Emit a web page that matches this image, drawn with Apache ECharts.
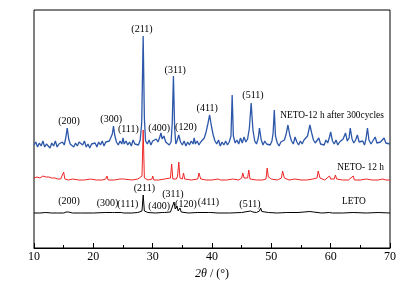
<!DOCTYPE html>
<html>
<head>
<meta charset="utf-8">
<script src="https://cdn.jsdelivr.net/npm/echarts@6/dist/echarts.min.js"></script>
<style>
  html, body { margin: 0; padding: 0; background: #fff; }
  #xrd { width: 418px; height: 285px; }
</style>
</head>
<body>
<div id="xrd"></div>
<script>
// 2theta / intensity pairs (a.u., already offset like the figure)
const blueData = [
  [10.0, 103], [10.3, 106], [10.6, 101], [10.9, 105], [11.2, 102], [11.5, 107], [11.8, 101], [12.1, 104],
  [12.4, 106], [12.7, 100], [13.0, 105], [13.3, 102], [13.6, 107], [13.9, 101], [14.2, 104], [14.5, 102],
  [14.8, 106], [15.1, 103], [15.35, 110], [15.6, 120], [15.85, 109], [16.1, 104], [16.4, 106], [16.7, 101],
  [17.0, 105], [17.3, 102], [17.6, 106], [17.9, 108], [18.2, 103], [18.5, 107], [18.8, 101], [19.1, 104],
  [19.4, 100], [19.7, 104], [20.0, 102], [20.3, 105], [20.6, 101], [20.9, 106], [21.2, 103], [21.5, 107],
  [21.8, 102], [22.1, 106], [22.4, 104], [22.7, 107], [23.0, 109], [23.2, 114], [23.4, 122], [23.6, 113],
  [23.9, 106], [24.2, 103], [24.5, 107], [24.8, 104], [25.0, 110], [25.2, 104], [25.5, 107], [25.8, 103],
  [26.1, 106], [26.4, 102], [26.7, 108], [27.0, 104], [27.3, 106], [27.6, 103], [27.9, 108], [28.15, 125],
  [28.4, 212], [28.6, 130], [28.8, 107], [29.1, 104], [29.4, 108], [29.7, 103], [30.0, 107], [30.3, 105],
  [30.6, 109], [30.9, 106], [31.2, 111], [31.4, 115], [31.6, 109], [31.9, 112], [32.2, 106], [32.5, 108],
  [32.8, 103], [33.1, 106], [33.3, 125], [33.5, 172], [33.7, 120], [33.9, 104], [34.1, 107], [34.4, 113],
  [34.7, 106], [35.0, 103], [35.3, 107], [35.6, 102], [35.9, 106], [36.2, 103], [36.5, 107], [36.8, 104],
  [37.0, 110], [37.2, 104], [37.5, 107], [37.8, 103], [38.1, 106], [38.4, 105], [38.7, 110], [39.0, 116],
  [39.3, 124], [39.6, 133], [39.9, 122], [40.2, 113], [40.5, 107], [40.8, 104], [41.1, 108], [41.4, 102],
  [41.7, 106], [42.0, 103], [42.3, 107], [42.6, 103], [42.9, 106], [43.2, 112], [43.4, 153], [43.6, 112],
  [43.9, 105], [44.2, 108], [44.5, 104], [44.8, 110], [45.1, 105], [45.4, 111], [45.7, 106], [46.0, 109],
  [46.3, 120], [46.6, 145], [46.9, 118], [47.2, 107], [47.5, 104], [47.8, 110], [48.0, 120], [48.3, 108],
  [48.6, 103], [48.9, 107], [49.2, 104], [49.5, 106], [49.8, 103], [50.1, 107], [50.3, 115], [50.5, 138],
  [50.7, 112], [51.0, 105], [51.3, 102], [51.6, 106], [51.9, 104], [52.2, 108], [52.5, 114], [52.8, 123],
  [53.1, 113], [53.4, 107], [53.7, 104], [54.0, 111], [54.3, 106], [54.6, 103], [54.9, 107], [55.2, 104],
  [55.5, 108], [55.8, 106], [56.1, 112], [56.5, 123], [56.8, 115], [57.1, 108], [57.4, 105], [57.7, 107],
  [58.0, 110], [58.3, 104], [58.6, 106], [58.9, 103], [59.2, 108], [59.5, 105], [59.8, 111], [60.0, 116],
  [60.3, 107], [60.6, 104], [60.9, 108], [61.2, 103], [61.5, 106], [61.8, 104], [62.1, 109], [62.5, 115],
  [62.8, 107], [63.1, 110], [63.3, 120], [63.6, 109], [63.9, 105], [64.2, 108], [64.5, 113], [64.8, 106],
  [65.1, 104], [65.4, 107], [65.7, 103], [65.95, 109], [66.2, 120], [66.45, 108], [66.8, 104], [67.1, 107],
  [67.5, 111], [67.8, 105], [68.1, 103], [68.4, 106], [68.7, 104], [69.0, 110], [69.3, 105], [69.6, 103],
  [70.0, 104]
]
const redData = [
  [10.0, 70], [10.5, 71], [11.0, 70], [11.5, 72], [12.0, 71], [12.5, 71], [13.0, 70], [13.5, 70],
  [14.0, 69], [14.5, 69], [14.8, 70], [15.0, 76], [15.2, 69], [15.8, 68], [16.5, 69], [17.5, 68],
  [18.5, 68], [19.5, 69], [20.5, 68], [21.5, 68], [22.1, 69], [22.3, 72], [22.5, 68], [23.5, 68],
  [24.5, 69], [25.1, 69], [25.2, 71], [25.4, 68], [26.5, 68], [27.5, 69], [28.2, 72], [28.4, 118],
  [28.6, 70], [29.2, 68], [29.9, 69], [30.0, 72], [30.2, 68], [31.0, 68], [32.0, 69], [33.0, 70],
  [33.2, 84], [33.4, 69], [34.0, 69], [34.2, 72], [34.4, 86], [34.6, 70], [35.0, 69], [35.2, 75],
  [35.4, 69], [36.5, 68], [37.6, 69], [37.8, 75], [38.1, 69], [39.0, 68], [40.0, 68], [41.0, 69],
  [41.2, 71], [41.4, 68], [42.5, 68], [43.5, 69], [44.5, 68], [45.0, 70], [45.2, 75], [45.4, 70],
  [46.0, 70], [46.2, 78], [46.4, 69], [47.5, 68], [48.5, 68], [49.1, 69], [49.3, 80], [49.5, 71],
  [50.0, 69], [51.0, 68], [51.7, 70], [51.9, 77], [52.2, 70], [53.0, 68], [54.0, 69], [55.0, 68],
  [56.0, 68], [57.0, 69], [57.7, 70], [57.9, 77], [58.2, 70], [59.0, 68], [59.8, 72], [60.0, 69],
  [60.6, 69], [60.8, 73], [61.0, 69], [62.0, 68], [63.0, 68], [63.8, 72], [64.0, 68], [65.0, 68],
  [66.0, 69], [67.0, 68], [68.0, 68], [68.8, 69], [69.0, 71], [69.3, 68], [70.0, 68]
]
const blackData = [
  [10.0, 35], [11.0, 35], [12.0, 35.5], [13.0, 35], [14.0, 35], [15.0, 35], [15.4, 36], [15.6, 38],
  [15.8, 36], [16.5, 35], [18.0, 35], [20.0, 35], [22.0, 35.5], [23.2, 35.5], [23.4, 37], [23.6, 35.5],
  [24.7, 35.5], [24.9, 36.5], [25.1, 35], [26.5, 35], [27.5, 35.5], [28.2, 37], [28.4, 53], [28.6, 37],
  [29.2, 35.5], [30.5, 35], [31.6, 35.5], [31.8, 36], [32.0, 35.5], [33.0, 36], [33.3, 38], [33.6, 46],
  [33.8, 39], [34.1, 42], [34.3, 37], [34.6, 40], [34.8, 36], [36.0, 35], [37.5, 35.5], [39.4, 35.5],
  [39.6, 37], [39.8, 35.5], [41.0, 35], [43.0, 35], [45.0, 35.5], [46.5, 37], [46.7, 39], [46.9, 36],
  [47.5, 35.5], [48.0, 37], [48.2, 40], [48.4, 36.5], [49.5, 35.5], [51.0, 35], [52.6, 35.5], [52.8, 36.5],
  [53.0, 35.5], [54.5, 35.5], [56.5, 36.5], [56.8, 38], [57.1, 36], [58.5, 35], [59.8, 35.5], [60.0, 36.5],
  [60.3, 35], [62.0, 35], [63.8, 35.5], [64.0, 35], [66.0, 35], [68.0, 35.5], [70.0, 35]
]

// peak index labels: [2theta, intensity, text]
const blueLabels = [
  [15.9, 127, '(200)'], [23.0, 129, '(300)'], [25.9, 119, '(111)'], [28.2, 219, '(211)'],
  [31.1, 120, '(400)'], [33.8, 178, '(311)'], [35.6, 121, '(120)'], [39.2, 140, '(411)'], [46.9, 153, '(511)']
]
const blackLabels = [
  [15.9, 47, '(200)'], [22.4, 45, '(300)'], [25.8, 44, '(111)'], [28.6, 60, '(211)'],
  [31.1, 42, '(400)'], [33.4, 54, '(311)'], [35.6, 44, '(120)'], [39.4, 46, '(411)'], [46.4, 44, '(511)']
]
// sample names
const sampleNames = [
  [51.5, 132, 'NETO-12 h after 300cycles'],
  [61.1, 80, 'NETO- 12 h'],
  [61.9, 46, 'LETO']
]

const serif = 'Liberation Serif'

function textMarks (list, position, size) {
  return {
    symbol: 'circle',
    symbolSize: 0,
    silent: true,
    label: { show: true, position: position, distance: 0, formatter: '{b}', color: '#000', fontFamily: serif, fontSize: size },
    data: list.map(item => ({ coord: [item[0], item[1]], name: item[2] }))
  }
}

const myChart = echarts.init(document.getElementById('xrd'))
const option = {
  animation: false,
  grid: { left: 34, right: 28, top: 10, bottom: 37, show: true, borderColor: '#000', borderWidth: 1 },
  xAxis: {
    type: 'value',
    min: 10,
    max: 70,
    interval: 10,
    name: '{i|2θ} / (°)',
    nameLocation: 'middle',
    nameGap: 19,
    nameTextStyle: {
      fontFamily: serif,
      fontSize: 12,
      color: '#000',
      rich: { i: { fontFamily: serif, fontStyle: 'italic', fontSize: 12, color: '#000' } }
    },
    axisLine: { show: true, lineStyle: { color: '#000', width: 1 } },
    axisTick: { show: true, inside: true, length: 5, lineStyle: { color: '#000' } },
    minorTick: { show: true, splitNumber: 2, length: 3, lineStyle: { color: '#000' } },
    axisLabel: { color: '#000', fontFamily: serif, fontSize: 12, margin: 3 },
    splitLine: { show: false }
  },
  yAxis: {
    type: 'value',
    min: 0,
    max: 238,
    axisLine: { show: false },
    axisTick: { show: false },
    axisLabel: { show: false },
    splitLine: { show: false }
  },
  series: [
    {
      name: 'NETO-12 h after 300cycles',
      type: 'line',
      data: blueData,
      showSymbol: false,
      lineStyle: { color: '#2d58aa', width: 1.3 },
      markPoint: textMarks(sampleNames, 'right', 9.4)
    },
    {
      name: 'NETO- 12 h',
      type: 'line',
      data: redData,
      showSymbol: false,
      lineStyle: { color: '#ee2424', width: 1 },
      markPoint: textMarks(blueLabels, 'inside', 10)
    },
    {
      name: 'LETO',
      type: 'line',
      data: blackData,
      showSymbol: false,
      lineStyle: { color: '#000', width: 1 },
      markPoint: textMarks(blackLabels, 'inside', 10)
    }
  ]
}
myChart.setOption(option)
window.addEventListener('resize', () => {
  myChart.resize()
})
</script>
</body>
</html>
